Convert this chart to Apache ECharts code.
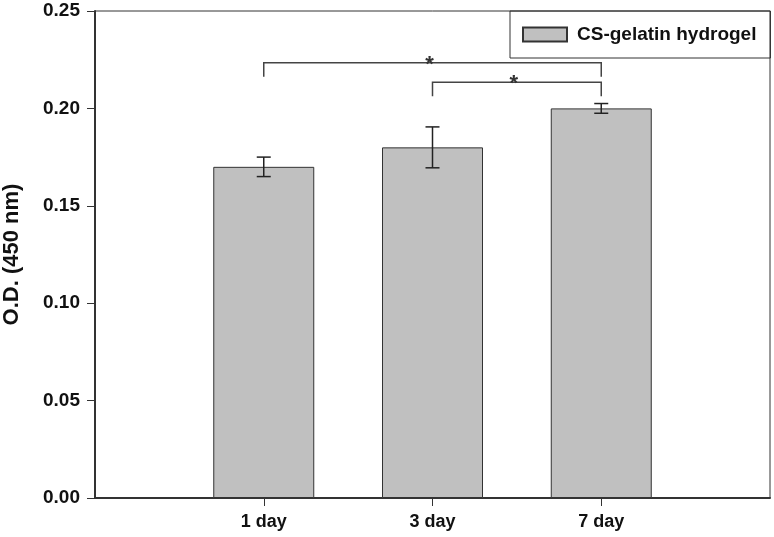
<!DOCTYPE html>
<html>
<head>
<meta charset="utf-8">
<style>
  html, body { margin: 0; padding: 0; background: #fff; }
  #chart { width: 774px; height: 537px; }
</style>
<script src="https://cdn.jsdelivr.net/npm/echarts@6/dist/echarts.min.js"></script>
</head>
<body>
<div id="chart"></div>
<script>
// blank slots at both ends so the three bars sit at 1/4, 2/4, 3/4 of the width
const categories = ['', '1 day', '3 day', '7 day', '']
const odValues = ['-', 0.170, 0.180, 0.200, '-']
const odErrors = [0, 0.005, 0.0105, 0.0025, 0]
const yTicks = [0, 0.05, 0.10, 0.15, 0.20, 0.25]
// [fromIndex, toIndex, bracket top, bracket foot]
const brackets = [
  [1, 3, 0.2234, 0.2162],
  [2, 3, 0.2134, 0.2063]
]

const axisColor = '#333'
const barColor = '#c0c0c0'
const font = 'Arial, "Liberation Sans", sans-serif'

const errorData = odValues
  .map((v, i) => [i, v, odErrors[i]])
  .filter(d => d[1] !== '-')
  .map(d => [d[0], d[1] - d[2], d[1] + d[2]])

const chart = echarts.init(document.getElementById('chart'))

const option = {
  animation: false,
  grid: {
    left: 95,
    right: 4,
    top: 11,
    bottom: 39,
    outerBoundsMode: 'none',
    show: true,
    borderColor: axisColor,
    borderWidth: 1
  },
  legend: {
    left: 510,
    top: 11,
    padding: [14, 14, 14, 12],
    borderColor: axisColor,
    borderWidth: 1,
    icon: 'rect',
    itemWidth: 44,
    itemHeight: 14,
    itemGap: 10,
    data: ['CS-gelatin hydrogel'],
    textStyle: {
      fontFamily: font,
      fontSize: 19,
      fontWeight: 'bold',
      color: '#111',
      padding: [0, 0, 0, 5]
    }
  },
  xAxis: {
    type: 'category',
    data: categories,
    boundaryGap: false,
    axisLine: { lineStyle: { color: axisColor, width: 2 } },
    axisTick: {
      length: 8,
      interval: (i) => categories[i] !== '',
      lineStyle: { color: axisColor, width: 1 }
    },
    axisLabel: {
      interval: 0,
      margin: 15,
      fontFamily: font,
      fontSize: 18,
      fontWeight: 'bold',
      color: '#111'
    },
    splitLine: { show: false }
  },
  yAxis: {
    type: 'value',
    min: yTicks[0],
    max: yTicks[yTicks.length - 1],
    interval: 0.05,
    name: 'O.D. (450 nm)',
    nameLocation: 'middle',
    nameGap: 72,
    nameTextStyle: {
      fontFamily: font,
      fontSize: 22,
      fontWeight: 'bold',
      color: '#111'
    },
    axisLine: { show: true, lineStyle: { color: axisColor, width: 2 } },
    axisTick: { show: true, length: 8, lineStyle: { color: axisColor, width: 1 } },
    axisLabel: {
      margin: 15,
      fontFamily: font,
      fontSize: 19,
      fontWeight: 'bold',
      color: '#111',
      formatter: (v) => v.toFixed(2)
    },
    splitLine: { show: false }
  },
  series: [
    {
      name: 'CS-gelatin hydrogel',
      type: 'bar',
      data: odValues,
      barWidth: 101,
      itemStyle: {
        color: barColor,
        borderColor: axisColor,
        borderWidth: 1
      }
    },
    {
      name: 'error',
      type: 'custom',
      data: errorData,
      z: 5,
      renderItem: function (params, api) {
        const lo = api.coord([api.value(0), api.value(1)])
        const hi = api.coord([api.value(0), api.value(2)])
        const half = 7
        const style = { stroke: '#222', lineWidth: 1.5 }
        return {
          type: 'group',
          children: [
            { type: 'line', shape: { x1: lo[0], y1: lo[1], x2: hi[0], y2: hi[1] }, style },
            { type: 'line', shape: { x1: lo[0] - half, y1: lo[1], x2: lo[0] + half, y2: lo[1] }, style },
            { type: 'line', shape: { x1: hi[0] - half, y1: hi[1], x2: hi[0] + half, y2: hi[1] }, style }
          ]
        }
      }
    },
    {
      name: 'significance',
      type: 'custom',
      data: brackets,
      z: 5,
      renderItem: function (params, api) {
        const a = api.coord([api.value(0), api.value(2)])
        const b = api.coord([api.value(1), api.value(2)])
        const foot = api.coord([api.value(0), api.value(3)])[1]
        const style = { stroke: '#444', lineWidth: 1.5, fill: null }
        return {
          type: 'group',
          children: [
            {
              type: 'polyline',
              shape: { points: [[a[0], foot], [a[0], a[1]], [b[0], b[1]], [b[0], foot]] },
              style
            },
            {
              type: 'text',
              x: (a[0] + b[0]) / 2 - 3,
              y: a[1] + 2,
              style: {
                text: '*',
                fontFamily: font,
                fontSize: 22,
                fontWeight: 'bold',
                fill: '#333',
                align: 'center',
                verticalAlign: 'middle'
              }
            }
          ]
        }
      }
    }
  ]
}

chart.setOption(option)
</script>
</body>
</html>
